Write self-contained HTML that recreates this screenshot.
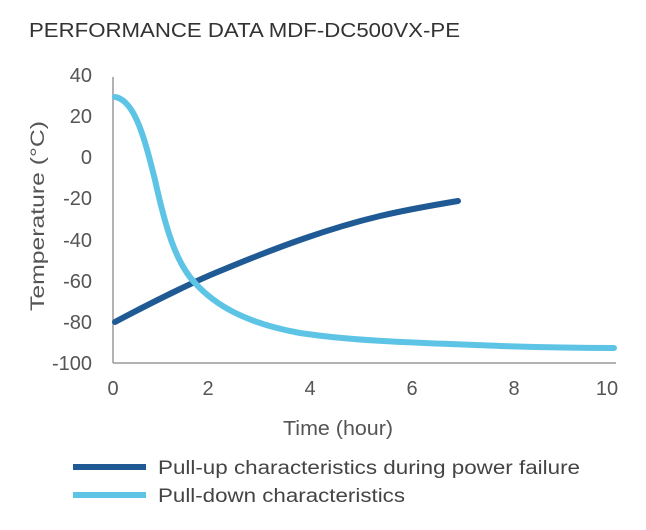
<!DOCTYPE html>
<html><head><style>
body{margin:0;background:#fff;width:646px;height:525px;overflow:hidden}
svg text{font-family:"Liberation Sans",sans-serif;fill:#555}
</style></head><body>
<svg width="646" height="525" viewBox="0 0 646 525">
<text x="29" y="37" font-size="20" style="fill:#333" textLength="431" lengthAdjust="spacingAndGlyphs">PERFORMANCE DATA MDF-DC500VX-PE</text>
<g stroke="#999" stroke-width="1.5" fill="none">
<line x1="113" y1="77" x2="113" y2="363"/>
<line x1="113" y1="363" x2="616" y2="363"/>
</g>
<g font-size="20" text-anchor="end">
<text x="92" y="82">40</text>
<text x="92" y="123">20</text>
<text x="92" y="164">0</text>
<text x="92" y="205">-20</text>
<text x="92" y="247">-40</text>
<text x="92" y="288">-60</text>
<text x="92" y="329">-80</text>
<text x="92" y="370">-100</text>
</g>
<g font-size="20" text-anchor="middle">
<text x="113" y="395">0</text>
<text x="208" y="395">2</text>
<text x="310" y="395">4</text>
<text x="412" y="395">6</text>
<text x="514" y="395">8</text>
<text x="607" y="395">10</text>
<text x="338" y="435" textLength="110" lengthAdjust="spacingAndGlyphs">Time (hour)</text>
</g>
<text transform="translate(44,216) rotate(-90)" font-size="19" text-anchor="middle" textLength="190" lengthAdjust="spacingAndGlyphs">Temperature (°C)</text>
<path d="M115,322 C160,298 200,279 220,271 C280,246 330,228 380,216 C410,209 440,204 458,201" stroke="#1f5a94" stroke-width="6" fill="none" stroke-linecap="round"/>
<path d="M115,97 C135,100 145,140 155,180 C165,225 175,262 195,283 C215,305 245,323 300,333 C360,342 430,343 500,346 C560,348 590,348 614,348" stroke="#5ec4e6" stroke-width="6" fill="none" stroke-linecap="round"/>
<line x1="73" y1="467" x2="146" y2="467" stroke="#1f5a94" stroke-width="6"/>
<line x1="73" y1="495" x2="146" y2="495" stroke="#5ec4e6" stroke-width="6"/>
<text x="158" y="474" font-size="19" style="fill:#444" textLength="422" lengthAdjust="spacingAndGlyphs">Pull-up characteristics during power failure</text>
<text x="158" y="502" font-size="19" style="fill:#444" textLength="247" lengthAdjust="spacingAndGlyphs">Pull-down characteristics</text>
</svg>
</body></html>
